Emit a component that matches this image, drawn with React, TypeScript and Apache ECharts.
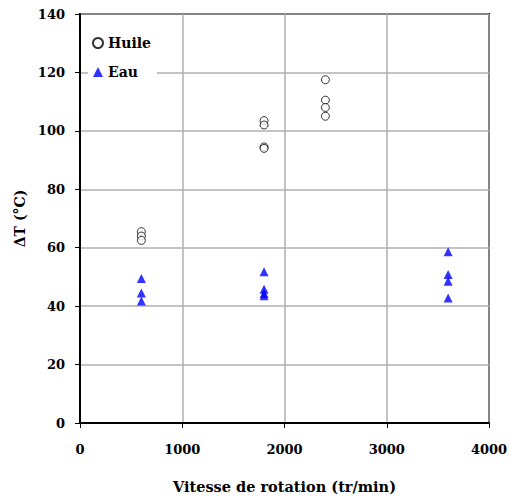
import React, { useEffect, useRef } from "react";
import * as echarts from "echarts";

const huileX = [600, 600, 600, 1800, 1800, 1800, 1800, 2400, 2400, 2400, 2400];
const huileY = [65.5, 64, 62.5, 103.5, 102, 94.5, 94, 117.5, 110.5, 108, 105];
const eauX = [600, 600, 600, 1800, 1800, 1800, 1800, 3600, 3600, 3600, 3600];
const eauY = [49.5, 44.5, 41.8, 51.8, 45.8, 44.3, 43.6, 58.6, 50.8, 48.5, 42.8];

const FONT = "'DejaVu Serif', 'Liberation Serif', serif";

export default function App() {
  const ref = useRef<HTMLDivElement>(null);
  useEffect(() => {
    if (!ref.current) return;
    const chart = echarts.init(ref.current, null, { renderer: "svg" });
    chart.setOption({
      animation: false,
      backgroundColor: "#fff",
      grid: {
        left: 80, right: 20, top: 14, bottom: 75,
        outerBoundsMode: "none",
        containLabel: false,
        show: true, borderColor: "#000", borderWidth: 2, backgroundColor: "transparent",
      },
      legend: {
        left: 88,
        top: 33,
        orient: "vertical",
        backgroundColor: "#fff",
        padding: [3, 6, 3, 4],
        itemGap: 15,
        itemWidth: 10,
        itemHeight: 10,
        textStyle: { fontFamily: FONT, fontWeight: "bold", fontSize: 14, color: "#000" },
        data: ["Huile", "Eau"],
      },
      xAxis: {
        type: "value",
        min: 0,
        max: 4000,
        interval: 1000,
        name: "Vitesse de rotation (tr/min)",
        nameLocation: "middle",
        nameGap: 56,
        nameTextStyle: { fontFamily: FONT, fontWeight: "bold", fontSize: 14.5, color: "#000" },
        axisLine: { show: true, lineStyle: { color: "#000", width: 2 } },
        axisTick: { show: true, inside: false, length: 5, lineStyle: { color: "#000" } },
        axisLabel: { fontFamily: FONT, fontWeight: "bold", fontSize: 13, color: "#000", margin: 20, formatter: (v: number) => String(v) },
        splitLine: { show: true, lineStyle: { color: "#b0b0b0", width: 1.5 } },
      },
      yAxis: {
        type: "value",
        min: 0,
        max: 140,
        interval: 20,
        name: "ΔT (°C)",
        nameLocation: "middle",
        nameGap: 52,
        nameRotate: 90,
        nameTextStyle: { fontFamily: FONT, fontWeight: "bold", fontSize: 14, color: "#000" },
        axisLine: { show: true, lineStyle: { color: "#000", width: 2 } },
        axisTick: { show: true, inside: false, length: 5, lineStyle: { color: "#000" } },
        axisLabel: { fontFamily: FONT, fontWeight: "bold", fontSize: 13, color: "#000", margin: 15 },
        splitLine: { show: true, lineStyle: { color: "#b0b0b0", width: 1.5 } },
      },
      series: [
        {
          name: "Huile",
          type: "scatter",
          symbol: "circle",
          symbolSize: 8,
          itemStyle: { color: "#fff", borderColor: "#000", borderWidth: 1 },
          data: huileX.map((x, i) => [x, huileY[i]]),
          z: 3,
        },
        {
          name: "Eau",
          type: "scatter",
          symbol: "triangle",
          symbolSize: 9,
          itemStyle: { color: "#0000ff" },
          data: eauX.map((x, i) => [x, eauY[i]]),
          z: 3,
        },
      ],
    });
    return () => chart.dispose();
  }, []);
  return <div ref={ref} style={{ width: 509, height: 498, position: "absolute", left: 0, top: 0 }} />;
}
